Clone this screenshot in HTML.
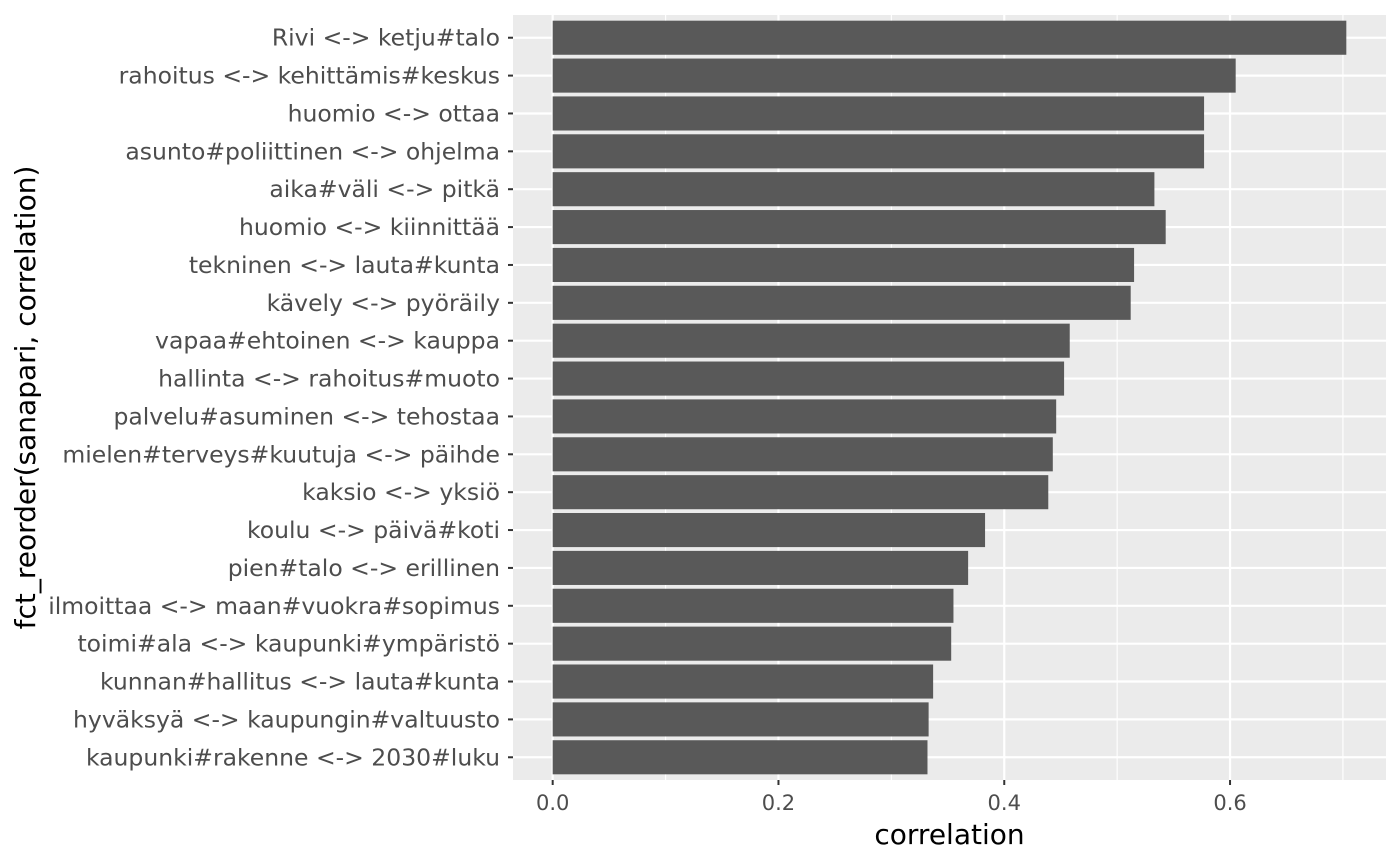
<!DOCTYPE html>
<html><head><meta charset="utf-8"><style>
body{margin:0;background:#fff;}
svg{display:block;font-family:"DejaVu Sans","Liberation Sans",sans-serif;}
</style></head><body>
<svg id="chart" width="1400" height="865" xmlns="http://www.w3.org/2000/svg"></svg>
<script>
const categories = ["Rivi <-> ketju#talo","rahoitus <-> kehittämis#keskus","huomio <-> ottaa","asunto#poliittinen <-> ohjelma","aika#väli <-> pitkä","huomio <-> kiinnittää","tekninen <-> lauta#kunta","kävely <-> pyöräily","vapaa#ehtoinen <-> kauppa","hallinta <-> rahoitus#muoto","palvelu#asuminen <-> tehostaa","mielen#terveys#kuutuja <-> päihde","kaksio <-> yksiö","koulu <-> päivä#koti","pien#talo <-> erillinen","ilmoittaa <-> maan#vuokra#sopimus","toimi#ala <-> kaupunki#ympäristö","kunnan#hallitus <-> lauta#kunta","hyväksyä <-> kaupungin#valtuusto","kaupunki#rakenne <-> 2030#luku"];
const values = [0.703,0.605,0.577,0.577,0.533,0.543,0.515,0.512,0.458,0.453,0.446,0.443,0.439,0.383,0.368,0.355,0.353,0.337,0.333,0.332];
const xTicks = [0,0.2,0.4,0.6];
const xTickLabels = ["0.0","0.2","0.4","0.6"];
const xMinor = [0.1,0.3,0.5,0.7];

const NS="http://www.w3.org/2000/svg";
const svg=document.getElementById('chart');
const P={l:513,r:1386,t:15,b:780};
const maxV=Math.max(...values);
const xMin=-0.05*maxV, xMax=maxV*1.05;
const x=v=>P.l+(v-xMin)/(xMax-xMin)*(P.r-P.l);
const n=categories.length;
const step=(P.b-P.t)/(n+0.2);
const y=i=>P.t+(0.6+i)*step;
function el(tag,attrs,parent){const e=document.createElementNS(NS,tag);for(const k in attrs)e.setAttribute(k,attrs[k]);(parent||svg).appendChild(e);return e;}

const bg=el('rect',{x:P.l,y:P.t,width:P.r-P.l,height:P.b-P.t,fill:'#ebebeb'});


xMinor.forEach(v=>{if(x(v)<P.r){const g=el('line',{x1:x(v),x2:x(v),y1:P.t,y2:P.b,stroke:'#fff','stroke-width':1.1});

}});
xTicks.forEach(v=>{const g=el('line',{x1:x(v),x2:x(v),y1:P.t,y2:P.b,stroke:'#fff','stroke-width':2.2});

});
categories.forEach((c,i)=>{const g=el('line',{x1:P.l,x2:P.r,y1:y(i),y2:y(i),stroke:'#fff','stroke-width':2.2});

});
categories.forEach((c,i)=>{
  const h=step*0.9;
  const b=el('rect',{x:x(0),y:y(i)-h/2,width:x(values[i])-x(0),height:h,fill:'#595959'});
  
  
  const t=el('line',{x1:P.l-5,x2:P.l,y1:y(i),y2:y(i),stroke:'#333','stroke-width':2});
  
  
  const l=el('text',{x:P.l-13,y:y(i)+8,'text-anchor':'end','font-size':23.5,fill:'#4d4d4d'});
  l.textContent=c;
  
  
});
xTicks.forEach((v,i)=>{
  const t=el('line',{x1:x(v),x2:x(v),y1:P.b,y2:P.b+5,stroke:'#333','stroke-width':2});
  
  
  const l=el('text',{x:x(v),y:P.b+30,'text-anchor':'middle','font-size':21,fill:'#4d4d4d'});
  l.textContent=xTickLabels[i];
  
  
});
const xt=el('text',{x:(P.l+P.r)/2,y:844,'text-anchor':'middle','font-size':28,fill:'#000'});
xt.textContent='correlation';


const yt=el('text',{x:0,y:0,'text-anchor':'middle','font-size':28,fill:'#000',transform:`translate(35,${(P.t+P.b)/2}) rotate(-90)`});
yt.textContent='fct_reorder(sanapari, correlation)';


</script>
</body></html>
